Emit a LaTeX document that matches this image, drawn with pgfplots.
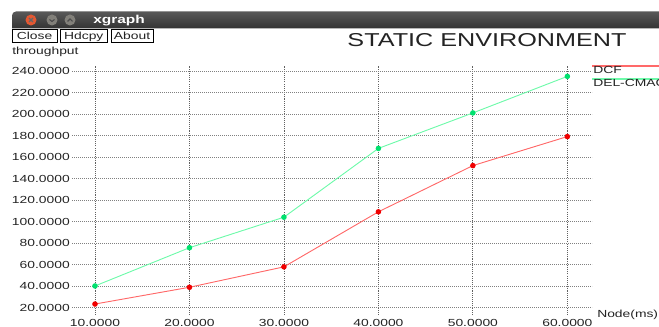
\documentclass[border=0pt]{standalone}
\usepackage{fontspec}
\usepackage{pgfplots}
\pgfplotsset{compat=1.18}
\setmainfont{Liberation Sans}
\newfontfamily\wf[FakeStretch=1.35]{Liberation Sans}
\newcommand\sm{\wf\fontsize{7.7}{9}\selectfont}
\definecolor{dcfline}{RGB}{255,105,105}
\definecolor{dcfmark}{RGB}{240,0,0}
\definecolor{delline}{RGB}{110,250,170}
\definecolor{delmark}{RGB}{0,225,110}
\definecolor{txt}{RGB}{35,35,35}
\begin{document}
\begin{tikzpicture}
\useasboundingbox (0,0) rectangle (494.25pt,-245.25pt);
\clip (0,0) rectangle (494.25pt,-245.25pt);
\begin{scope}[x=0.75pt,y=-0.75pt]
% window title bar
\shade[top color=black!65, bottom color=black!80] (12,28.5) [rounded corners=3] -- (12,11.5) -- (670,11.5) [sharp corners] -- (670,28.5) -- cycle;
\fill[color={rgb,255:red,228;green,88;blue,50}] (31,20) circle (5.5);
\draw[black!60, line width=0.9pt] (29,18) -- (33,22) (29,22) -- (33,18);
\fill[color={rgb,255:red,130;green,128;blue,122}] (52,20) circle (5.5);
\draw[black!70, line width=0.8pt] (49.5,19.5) -- (52,21.5) -- (54.5,19.5);
\fill[color={rgb,255:red,130;green,128;blue,122}] (70,20) circle (5.5);
\draw[black!70, line width=0.8pt] (67.5,21.5) -- (70,19) -- (72.5,21.5);
\node[anchor=base west, inner sep=0pt, text=white] at (93,24) {\wf\fontsize{8.6}{10}\selectfont\bfseries xgraph};
% buttons
\draw[black, line width=0.75pt, fill=white] (12,29.5) rectangle (57,42.5);
\draw[black, line width=0.75pt, fill=white] (60,29.5) rectangle (107.5,42.5);
\draw[black, line width=0.75pt, fill=white] (111,29.5) rectangle (153,42.5);
\node[anchor=base, inner sep=0pt, text=txt] at (34.5,40) {\sm Close};
\node[anchor=base, inner sep=0pt, text=txt] at (83.75,40) {\sm Hdcpy};
\node[anchor=base, inner sep=0pt, text=txt] at (132,40) {\sm About};
% title and labels
\node[anchor=base, inner sep=0pt, text=txt] at (487,46.7) {\wf\fontsize{14}{16}\selectfont STATIC ENVIRONMENT};
\node[anchor=base west, inner sep=0pt, text=txt] at (12,55) {\sm throughput};
\node[anchor=base west, inner sep=0pt, text=txt] at (597,317.5) {\sm Node(ms)};
% legend
\draw[dcfline, line width=0.8pt] (592,66) -- (665,66);
\node[anchor=base west, inner sep=0pt, text=txt] at (593,74) {\sm DCF};
\draw[delline, line width=0.8pt] (592,79) -- (665,79);
\node[anchor=base west, inner sep=0pt, text=txt] at (593,87) {\sm DEL-CMAC};
\end{scope}
\begin{axis}[
  at={(54pt,-236.25pt)}, anchor=south west,
  scale only axis, width=390pt, height=186.75pt,
  xmin=7.565, xmax=62.61, ymin=13.0, ymax=244.65,
  axis line style={draw=none},
  major tick length=0pt,
  xtick={10,20,30,40,50,60},
  ytick={20,40,60,80,100,120,140,160,180,200,220,240},
  xmajorgrids, ymajorgrids,
  x grid style={black!62, line width=0.6pt, dash pattern=on 0.8pt off 0.8pt},
  y grid style={black!50, line width=0.6pt, dash pattern=on 0.6pt off 0.9pt},
  scaled ticks=false,
  tick label style={font=\sm, text=txt},
  xticklabel={\pgfmathprintnumber[fixed,fixed zerofill,precision=4,1000 sep={},assume math mode=true]{\tick}},
  yticklabel={\pgfmathprintnumber[fixed,fixed zerofill,precision=4,1000 sep={},assume math mode=true]{\tick}},
  yticklabel style={anchor=east, inner sep=0pt, xshift=-1.5pt},
  xticklabel style={anchor=north, inner sep=0pt, yshift=-3.2pt},
]
\addplot[dcfline, line width=0.7pt, mark=*, mark size=1.7pt, mark options={draw=dcfmark, fill=dcfmark}]
  coordinates {(10,23.2) (20,38.8) (30,57.8) (40,109) (50,152) (60,179)};
\addplot[delline, line width=0.7pt, mark=*, mark size=1.7pt, mark options={draw=delmark, fill=delmark}]
  coordinates {(10,40) (20,75.6) (30,104) (40,168) (50,201) (60,235)};
\end{axis}
\end{tikzpicture}
\end{document}
